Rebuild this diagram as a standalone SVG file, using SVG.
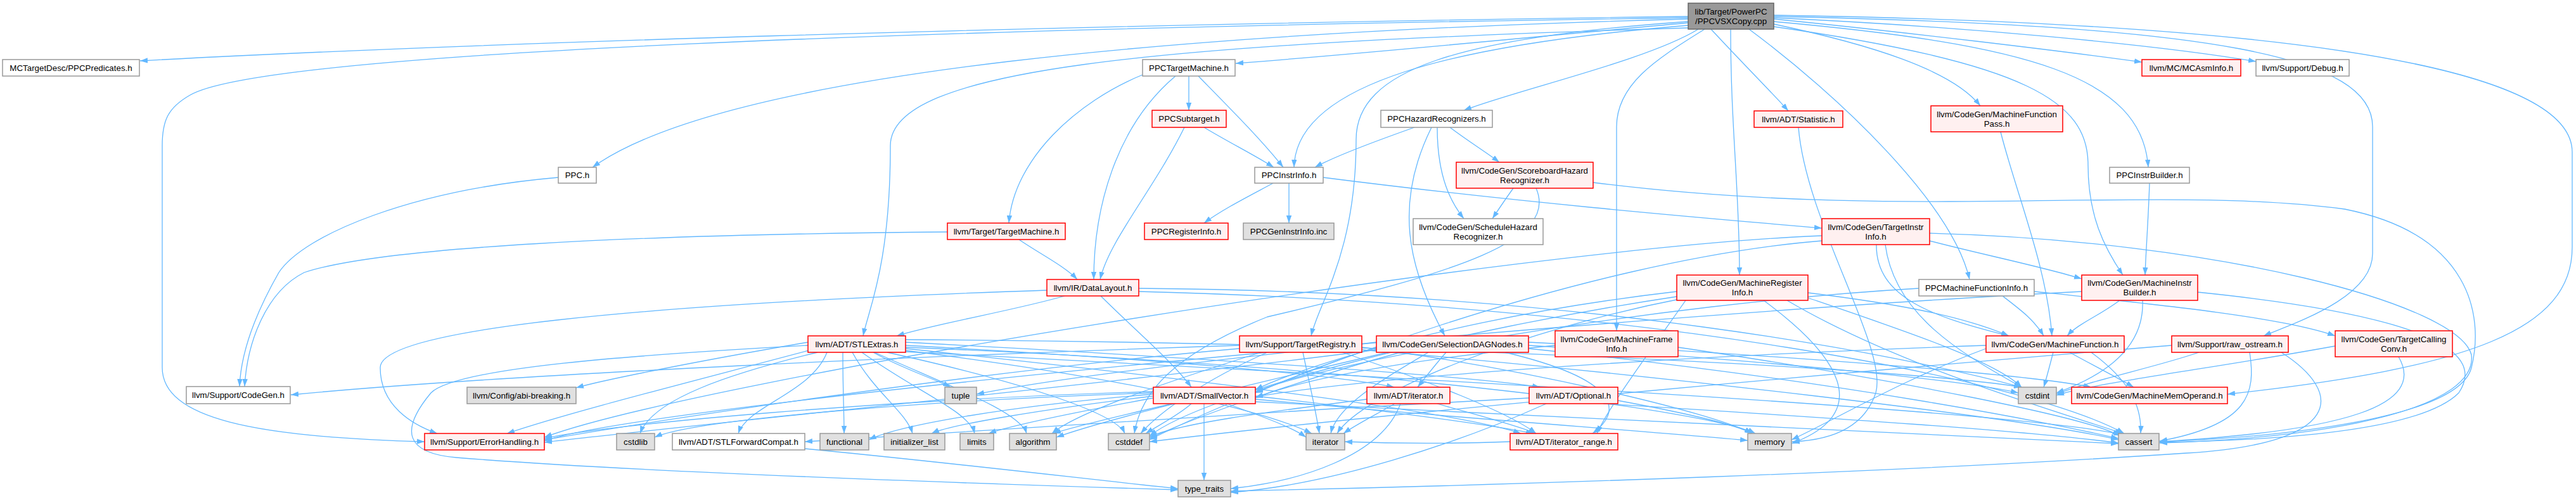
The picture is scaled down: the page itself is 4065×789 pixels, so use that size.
<svg xmlns="http://www.w3.org/2000/svg" width="4065" height="789" viewBox="0 0 4065 789">
<style>
.e{fill:none;stroke:#63b8ff;stroke-width:1.3;marker-end:url(#a)}
.n rect{fill:#ffffff;stroke:#999999;stroke-width:1.5}
.r rect{fill:#fff0f0;stroke:#ff0000;stroke-width:1.5}
.s rect{fill:#e0e0e0;stroke:#999999;stroke-width:1.5}
.o rect{fill:#999999;stroke:#666666;stroke-width:1.5}
text{font-family:"Liberation Sans",Arial,sans-serif;font-size:13.33px;fill:#000000;text-anchor:middle}
</style>
<defs>
<marker id="a" viewBox="0 0 10 7" refX="10" refY="3.5" markerWidth="12" markerHeight="8.4" markerUnits="userSpaceOnUse" orient="auto"><path d="M0,0L10,3.5L0,7z" fill="#63b8ff"/></marker>
</defs>
<rect width="4065" height="789" fill="#ffffff"/>
<g id="edges">
<path class="e" d="M2664,26 C1600,40 700,70 221,96"/>
<path class="e" d="M2664,30 C1900,50 1150,110 935,264"/>
<path class="e" d="M2664,36 C2400,60 2150,85 1950,100"/>
<path class="e" d="M2664,40 C2300,70 2045,130 2042,264"/>
<path class="e" d="M2680,46 C2600,95 2400,140 2310,174"/>
<path class="e" d="M2664,44 C1800,70 1405,110 1405,230 C1405,420 1370,490 1362,530"/>
<path class="e" d="M2700,46 C2750,100 2800,150 2822,175"/>
<path class="e" d="M2690,46 C2620,90 2551,130 2551,200 L2551,522"/>
<path class="e" d="M2799,38 C2950,70 3080,110 3125,167"/>
<path class="e" d="M2799,42 C3200,100 3295,160 3295,260 C3295,340 3320,390 3350,434"/>
<path class="e" d="M2799,24 C3500,35 4059,90 4059,240 L4059,390 C4059,520 3900,580 3515,622"/>
<path class="e" d="M2731,46 C2731,200 2745,300 2745,434"/>
<path class="e" d="M2799,30 C3000,50 3250,80 3380,98"/>
<path class="e" d="M2799,28 C3100,42 3400,70 3560,97"/>
<path class="e" d="M2664,28 C1500,45 420,80 300,150 C265,170 256,190 256,230 L256,580 C256,660 400,690 670,697"/>
<path class="e" d="M2664,34 C2300,60 2140,110 2140,220 C2140,400 2080,480 2069,530"/>
<path class="e" d="M2799,26 C3500,40 3744,90 3744,200 L3744,400 C3744,470 3620,510 3572,530"/>
<path class="e" d="M2760,46 C2900,150 3080,320 3108,441"/>
<path class="e" d="M2799,34 C3200,70 3380,120 3390,264"/>
<path class="e" d="M881,280 C650,300 480,370 440,430 C400,500 380,560 378,610"/>
<path class="e" d="M1803,118 C1700,160 1600,250 1592,352"/>
<path class="e" d="M1855,120 C1760,200 1726,330 1726,441"/>
<path class="e" d="M1876,120 L1876,174"/>
<path class="e" d="M1891,120 C1940,170 1990,220 2025,264"/>
<path class="e" d="M1900,201 C1940,225 1980,245 2010,264"/>
<path class="e" d="M1869,201 C1820,300 1750,380 1736,441"/>
<path class="e" d="M2009,289 C1970,310 1930,330 1900,352"/>
<path class="e" d="M2034,289 L2034,352"/>
<path class="e" d="M2088,280 C2400,320 2700,345 2875,360"/>
<path class="e" d="M1495,366 C1000,370 600,390 480,430 C420,460 390,540 386,610"/>
<path class="e" d="M1608,378 C1640,400 1680,420 1700,441"/>
<path class="e" d="M2232,201 C2150,230 2100,250 2075,264"/>
<path class="e" d="M2268,201 C2268,280 2290,320 2310,345"/>
<path class="e" d="M2288,201 C2320,225 2345,240 2366,256"/>
<path class="e" d="M2259,201 C2200,320 2220,420 2280,530"/>
<path class="e" d="M2388,297 C2375,315 2365,330 2355,345"/>
<path class="e" d="M2424,297 C2460,380 2300,430 2000,500 C1850,560 1800,620 1790,684"/>
<path class="e" d="M2514,288 C3000,350 3400,290 3700,330 C3900,370 3920,500 3900,580 C3880,660 3600,690 3408,697"/>
<path class="e" d="M2838,201 C2850,350 2980,550 2960,620 C2940,680 2880,695 2828,697"/>
<path class="e" d="M3157,208 C3180,300 3230,420 3238,530"/>
<path class="e" d="M3392,289 C3390,350 3386,400 3385,434"/>
<path class="e" d="M2961,386 C2960,470 3050,500 3170,530"/>
<path class="e" d="M3045,380 C3120,400 3220,420 3285,440"/>
<path class="e" d="M2975,386 C2990,500 3100,560 3190,611"/>
<path class="e" d="M3045,368 C3500,380 3880,480 3900,560 C3910,640 3700,690 3408,699"/>
<path class="e" d="M2875,372 C2400,390 1100,600 859,690"/>
<path class="e" d="M2875,380 C2500,410 2000,600 1814,694"/>
<path class="e" d="M1956,545 C1500,560 800,590 459,623"/>
<path class="e" d="M2056,556 C2065,600 2075,640 2082,684"/>
<path class="e" d="M2118,556 C2250,600 2380,650 2424,684"/>
<path class="e" d="M1956,550 C1500,590 1000,670 859,694"/>
<path class="e" d="M1990,556 C1850,600 1700,650 1660,684"/>
<path class="e" d="M2000,556 C1900,600 1830,650 1800,684"/>
<path class="e" d="M2149,548 C2400,580 2700,650 2765,684"/>
<path class="e" d="M2149,552 C2600,590 3200,660 3343,694"/>
<path class="e" d="M2282,556 C2265,575 2250,595 2237,611"/>
<path class="e" d="M2375,556 C2560,600 2560,650 2513,684"/>
<path class="e" d="M2254,556 C2180,600 2110,640 2100,684"/>
<path class="e" d="M2172,548 C2100,570 2030,600 1981,620"/>
<path class="e" d="M2172,540 C2000,560 1700,590 1541,622"/>
<path class="e" d="M2190,556 C2000,600 1750,660 1667,690"/>
<path class="e" d="M2210,556 C2050,600 1880,660 1814,692"/>
<path class="e" d="M2172,552 C1800,600 1100,670 859,698"/>
<path class="e" d="M2412,545 C2800,570 3100,600 3185,620"/>
<path class="e" d="M2412,550 C2900,600 3250,670 3343,692"/>
<path class="e" d="M2412,540 C2800,560 3200,590 3300,611"/>
<path class="e" d="M2454,545 C2200,570 2050,600 1981,628"/>
<path class="e" d="M2648,548 C3000,600 3300,660 3345,688"/>
<path class="e" d="M2853,462 C3000,480 3100,500 3170,530"/>
<path class="e" d="M2660,474 C2600,560 2540,640 2520,684"/>
<path class="e" d="M2783,474 C2900,560 2960,650 2827,700"/>
<path class="e" d="M2646,460 C2300,500 2050,580 1981,615"/>
<path class="e" d="M2853,470 C3000,520 3150,570 3190,611"/>
<path class="e" d="M2820,474 C3000,580 3250,650 3350,684"/>
<path class="e" d="M2646,468 C2300,520 1900,620 1814,688"/>
<path class="e" d="M2660,470 C2400,520 2150,620 2110,684"/>
<path class="e" d="M2201,637 C2170,655 2140,670 2120,684"/>
<path class="e" d="M2268,637 C2330,655 2390,670 2424,684"/>
<path class="e" d="M2157,630 C2000,650 1850,670 1814,690"/>
<path class="e" d="M2210,637 C2180,720 2050,760 1942,771"/>
<path class="e" d="M2413,628 C2000,650 1500,680 1270,697"/>
<path class="e" d="M2440,637 C2300,700 2100,765 1942,777"/>
<path class="e" d="M2530,637 C2900,660 3200,680 3343,699"/>
<path class="e" d="M2553,632 C2650,650 2740,670 2765,684"/>
<path class="e" d="M2383,697 C2300,700 2200,700 2122,697"/>
<path class="e" d="M1275,540 C1100,570 950,600 909,612"/>
<path class="e" d="M1280,552 C1100,600 900,650 800,684"/>
<path class="e" d="M1290,556 C1150,590 1030,630 1010,684"/>
<path class="e" d="M1305,556 C1280,620 1180,640 1165,684"/>
<path class="e" d="M1330,556 C1330,620 1332,650 1332,684"/>
<path class="e" d="M1345,556 C1380,620 1430,650 1440,684"/>
<path class="e" d="M1360,556 C1450,620 1530,650 1538,684"/>
<path class="e" d="M1380,556 C1500,610 1610,650 1620,684"/>
<path class="e" d="M1400,556 C1600,600 1760,650 1775,684"/>
<path class="e" d="M1378,556 C1420,580 1480,600 1500,611"/>
<path class="e" d="M1275,545 C1000,560 720,580 680,620 C630,680 640,715 720,722 C1000,745 1600,765 1859,773"/>
<path class="e" d="M1429,540 C1800,560 2300,590 2430,611"/>
<path class="e" d="M1429,545 C1800,565 2100,590 2200,611"/>
<path class="e" d="M1429,550 C1900,600 2300,650 2400,684"/>
<path class="e" d="M1429,553 C1800,600 2000,650 2070,684"/>
<path class="e" d="M1429,536 C2200,540 3000,580 3190,611"/>
<path class="e" d="M1429,548 C2200,580 2700,650 2770,684"/>
<path class="e" d="M1429,555 C2300,600 3200,650 3348,686"/>
<path class="e" d="M1680,467 C1600,490 1480,510 1415,530"/>
<path class="e" d="M1737,467 C1790,520 1850,570 1880,611"/>
<path class="e" d="M1652,458 C1000,480 600,520 600,580 C600,640 650,670 690,684"/>
<path class="e" d="M1797,455 C2500,460 3000,560 3190,611"/>
<path class="e" d="M1797,460 C2600,480 3200,600 3352,684"/>
<path class="e" d="M1900,637 L1900,758"/>
<path class="e" d="M1880,637 C1860,655 1830,670 1808,684"/>
<path class="e" d="M1850,637 C1750,660 1690,675 1662,684"/>
<path class="e" d="M1820,628 C1700,650 1600,670 1560,684"/>
<path class="e" d="M1820,625 C1650,645 1500,670 1470,684"/>
<path class="e" d="M1820,622 C1600,640 1420,670 1371,694"/>
<path class="e" d="M1820,620 C1500,630 1100,660 1033,690"/>
<path class="e" d="M1820,618 C1400,630 950,670 859,692"/>
<path class="e" d="M1981,625 C2200,650 2350,670 2420,684"/>
<path class="e" d="M1936,637 C2000,660 2040,675 2061,690"/>
<path class="e" d="M1981,630 C2300,660 2600,680 2758,695"/>
<path class="e" d="M1981,634 C2500,660 3100,690 3343,700"/>
<path class="e" d="M3240,556 C3235,575 3230,595 3225,611"/>
<path class="e" d="M3266,556 C3300,575 3340,595 3367,611"/>
<path class="e" d="M3134,545 C2700,560 2200,590 1981,626"/>
<path class="e" d="M3134,550 C3000,600 2900,660 2827,694"/>
<path class="e" d="M3300,556 C3360,600 3380,640 3378,684"/>
<path class="e" d="M3160,467 C3190,490 3210,505 3225,530"/>
<path class="e" d="M3028,455 C2600,480 2100,570 1981,618"/>
<path class="e" d="M3210,460 C3400,480 3600,500 3685,530"/>
<path class="e" d="M3345,474 C3310,500 3280,510 3262,530"/>
<path class="e" d="M3381,474 C3385,560 3300,600 3245,620"/>
<path class="e" d="M3468,461 C3850,500 3920,560 3880,620 C3820,680 3600,695 3408,698"/>
<path class="e" d="M3285,460 C2500,500 1000,640 859,696"/>
<path class="e" d="M3550,556 C3560,620 3550,670 3408,696"/>
<path class="e" d="M3470,556 C3400,580 3300,600 3245,622"/>
<path class="e" d="M3427,545 C3000,580 2200,650 1814,697"/>
<path class="e" d="M3600,556 C3700,620 3700,700 3450,715 C3000,745 2400,765 1942,775"/>
<path class="e" d="M3785,563 C3830,640 3700,680 3408,697"/>
<path class="e" d="M3685,546 C3500,580 3300,605 3245,624"/>
<path class="e" d="M1270,708 C1500,730 1750,760 1859,771"/>
</g>
<g id="n0" class="o"><rect x="2664" y="5" width="135" height="41"/><text x="2731.5" y="22.5">lib/Target/PowerPC</text><text x="2731.5" y="37.5">/PPCVSXCopy.cpp</text></g>
<g id="n1" class="n"><rect x="4" y="94" width="216" height="26"/><text x="112" y="111.7">MCTargetDesc/PPCPredicates.h</text></g>
<g id="n2" class="n"><rect x="881" y="264" width="60" height="25"/><text x="911" y="281">PPC.h</text></g>
<g id="n3" class="n"><rect x="294" y="610" width="164" height="27"/><text x="376" y="628">llvm/Support/CodeGen.h</text></g>
<g id="n4" class="r"><rect x="670" y="684" width="189" height="26"/><text x="764.5" y="701.7">llvm/Support/ErrorHandling.h</text></g>
<g id="n5" class="s"><rect x="737" y="611" width="172" height="26"/><text x="823" y="628.7">llvm/Config/abi-breaking.h</text></g>
<g id="n6" class="s"><rect x="973" y="684" width="60" height="26"/><text x="1003" y="701.7">cstdlib</text></g>
<g id="n7" class="n"><rect x="1061" y="684" width="209" height="26"/><text x="1165.5" y="701.7">llvm/ADT/STLForwardCompat.h</text></g>
<g id="n8" class="s"><rect x="1294" y="684" width="77" height="26"/><text x="1332.5" y="701.7">functional</text></g>
<g id="n9" class="r"><rect x="1275" y="530" width="154" height="26"/><text x="1352" y="547.7">llvm/ADT/STLExtras.h</text></g>
<g id="n10" class="s"><rect x="1395" y="684" width="96" height="26"/><text x="1443" y="701.7">initializer_list</text></g>
<g id="n11" class="s"><rect x="1515" y="684" width="53" height="26"/><text x="1541.5" y="701.7">limits</text></g>
<g id="n12" class="s"><rect x="1593" y="684" width="74" height="26"/><text x="1630" y="701.7">algorithm</text></g>
<g id="n13" class="s"><rect x="1749" y="684" width="65" height="26"/><text x="1781.5" y="701.7">cstddef</text></g>
<g id="n14" class="s"><rect x="1491" y="611" width="50" height="26"/><text x="1516" y="628.7">tuple</text></g>
<g id="n15" class="r"><rect x="1652" y="441" width="145" height="26"/><text x="1724.5" y="458.7">llvm/IR/DataLayout.h</text></g>
<g id="n16" class="r"><rect x="1820" y="611" width="161" height="26"/><text x="1900.5" y="628.7">llvm/ADT/SmallVector.h</text></g>
<g id="n17" class="s"><rect x="1859" y="758" width="83" height="26"/><text x="1900.5" y="775.7">type_traits</text></g>
<g id="n18" class="n"><rect x="1803" y="94" width="146" height="26"/><text x="1876" y="111.7">PPCTargetMachine.h</text></g>
<g id="n19" class="r"><rect x="1818" y="174" width="117" height="27"/><text x="1876.5" y="192">PPCSubtarget.h</text></g>
<g id="n20" class="n"><rect x="1980" y="264" width="108" height="25"/><text x="2034" y="281">PPCInstrInfo.h</text></g>
<g id="n21" class="r"><rect x="1495" y="352" width="186" height="26"/><text x="1588" y="369.7">llvm/Target/TargetMachine.h</text></g>
<g id="n22" class="r"><rect x="1806" y="352" width="132" height="26"/><text x="1872" y="369.7">PPCRegisterInfo.h</text></g>
<g id="n23" class="s"><rect x="1962" y="352" width="143" height="26"/><text x="2033.5" y="369.7">PPCGenInstrInfo.inc</text></g>
<g id="n24" class="n"><rect x="2179" y="174" width="176" height="27"/><text x="2267" y="192">PPCHazardRecognizers.h</text></g>
<g id="n25" class="r"><rect x="2298" y="256" width="216" height="41"/><text x="2406" y="273.5">llvm/CodeGen/ScoreboardHazard</text><text x="2406" y="288.5">Recognizer.h</text></g>
<g id="n26" class="n"><rect x="2230" y="345" width="205" height="41"/><text x="2332.5" y="362.5">llvm/CodeGen/ScheduleHazard</text><text x="2332.5" y="377.5">Recognizer.h</text></g>
<g id="n27" class="r"><rect x="2768" y="175" width="140" height="26"/><text x="2838" y="192.7">llvm/ADT/Statistic.h</text></g>
<g id="n28" class="r"><rect x="3047" y="167" width="208" height="41"/><text x="3151" y="184.5">llvm/CodeGen/MachineFunction</text><text x="3151" y="199.5">Pass.h</text></g>
<g id="n29" class="r"><rect x="3380" y="94" width="156" height="26"/><text x="3458" y="111.7">llvm/MC/MCAsmInfo.h</text></g>
<g id="n30" class="n"><rect x="3560" y="94" width="147" height="26"/><text x="3633.5" y="111.7">llvm/Support/Debug.h</text></g>
<g id="n31" class="n"><rect x="3329" y="264" width="126" height="25"/><text x="3392" y="281">PPCInstrBuilder.h</text></g>
<g id="n32" class="r"><rect x="2875" y="345" width="170" height="41"/><text x="2960" y="362.5">llvm/CodeGen/TargetInstr</text><text x="2960" y="377.5">Info.h</text></g>
<g id="n33" class="r"><rect x="1956" y="530" width="193" height="26"/><text x="2052.5" y="547.7">llvm/Support/TargetRegistry.h</text></g>
<g id="n34" class="r"><rect x="2172" y="530" width="240" height="26"/><text x="2292" y="547.7">llvm/CodeGen/SelectionDAGNodes.h</text></g>
<g id="n35" class="r"><rect x="2454" y="522" width="194" height="41"/><text x="2551" y="539.5">llvm/CodeGen/MachineFrame</text><text x="2551" y="554.5">Info.h</text></g>
<g id="n36" class="r"><rect x="2646" y="434" width="207" height="40"/><text x="2749.5" y="451">llvm/CodeGen/MachineRegister</text><text x="2749.5" y="466">Info.h</text></g>
<g id="n37" class="r"><rect x="2157" y="611" width="131" height="26"/><text x="2222.5" y="628.7">llvm/ADT/iterator.h</text></g>
<g id="n38" class="r"><rect x="2413" y="611" width="140" height="26"/><text x="2483" y="628.7">llvm/ADT/Optional.h</text></g>
<g id="n39" class="s"><rect x="2061" y="684" width="61" height="26"/><text x="2091.5" y="701.7">iterator</text></g>
<g id="n40" class="r"><rect x="2383" y="684" width="170" height="26"/><text x="2468" y="701.7">llvm/ADT/iterator_range.h</text></g>
<g id="n41" class="n"><rect x="3028" y="441" width="182" height="26"/><text x="3119" y="458.7">PPCMachineFunctionInfo.h</text></g>
<g id="n42" class="r"><rect x="3285" y="434" width="183" height="40"/><text x="3376.5" y="451">llvm/CodeGen/MachineInstr</text><text x="3376.5" y="466">Builder.h</text></g>
<g id="n43" class="r"><rect x="3134" y="530" width="218" height="26"/><text x="3243" y="547.7">llvm/CodeGen/MachineFunction.h</text></g>
<g id="n44" class="s"><rect x="3185" y="611" width="60" height="26"/><text x="3215" y="628.7">cstdint</text></g>
<g id="n45" class="r"><rect x="3269" y="611" width="246" height="26"/><text x="3392" y="628.7">llvm/CodeGen/MachineMemOperand.h</text></g>
<g id="n46" class="s"><rect x="2758" y="684" width="69" height="26"/><text x="2792.5" y="701.7">memory</text></g>
<g id="n47" class="s"><rect x="3343" y="684" width="64" height="26"/><text x="3375" y="701.7">cassert</text></g>
<g id="n48" class="r"><rect x="3427" y="530" width="184" height="26"/><text x="3519" y="547.7">llvm/Support/raw_ostream.h</text></g>
<g id="n49" class="r"><rect x="3685" y="522" width="185" height="41"/><text x="3777.5" y="539.5">llvm/CodeGen/TargetCalling</text><text x="3777.5" y="554.5">Conv.h</text></g>
</svg>
